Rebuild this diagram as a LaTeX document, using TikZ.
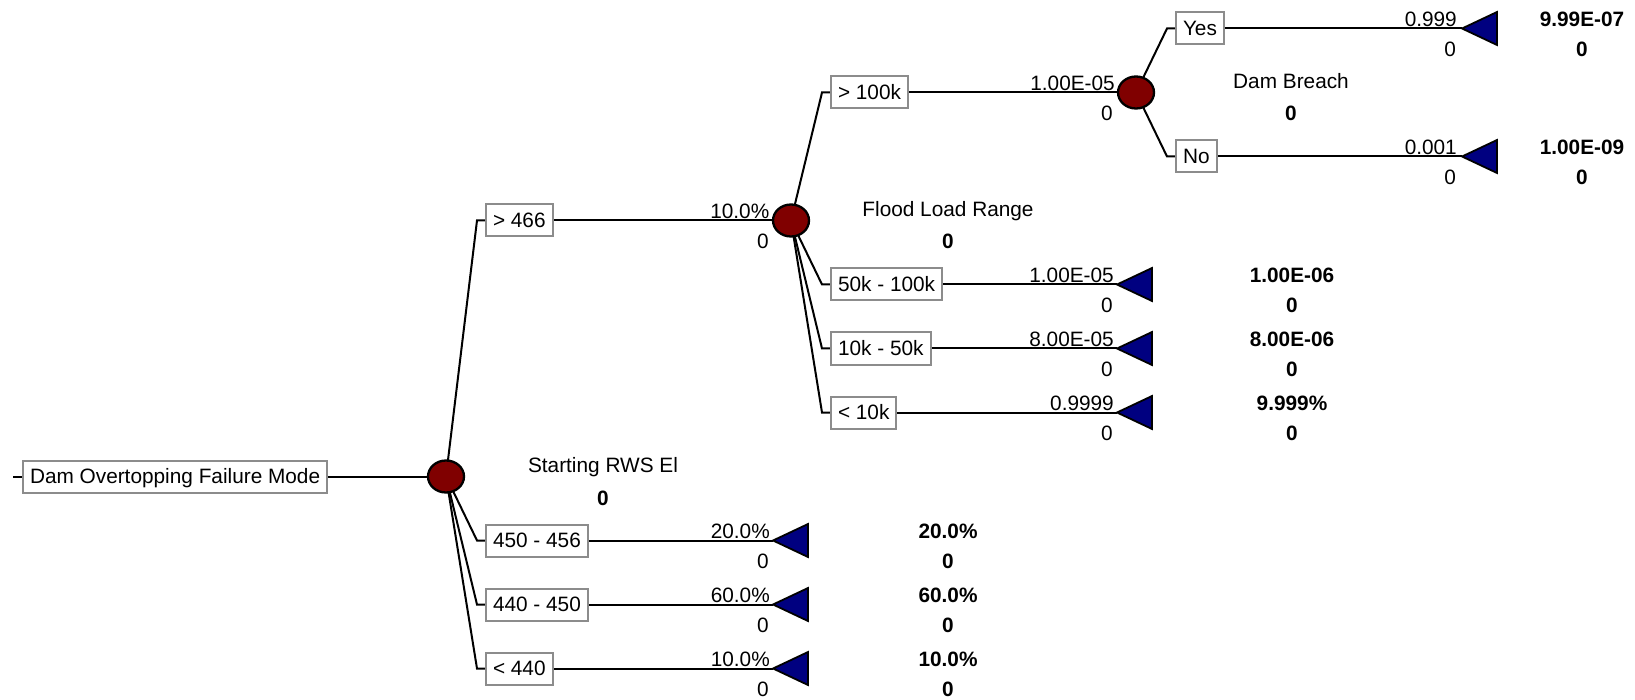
\documentclass[tikz,border=0pt]{standalone}
\usepackage{fontspec}
\setmainfont{Liberation Sans}
\usetikzlibrary{shapes.geometric,backgrounds}
\definecolor{chancered}{HTML}{800000}
\definecolor{termblue}{HTML}{000080}
\definecolor{boxgray}{HTML}{8C8C8C}

\tikzset{
  every node/.style={font=\fontsize{20.8}{24}\selectfont},
  branchbox/.style={draw=boxgray, line width=2pt, fill=white, inner xsep=7pt,
    inner ysep=0pt, minimum height=32pt, anchor=west, text height=14pt, text depth=0pt},
  chance/.style={ellipse, draw=black, line width=2.3pt, fill=chancered,
    minimum width=36pt, minimum height=32pt, inner sep=0pt},
  wire/.style={line width=2pt, black},
  terminal/.style={draw=black, line width=1.8pt, fill=termblue, line join=miter},
  prob/.style={anchor=base east, inner sep=0pt},
  payoff/.style={anchor=base, inner sep=0pt, font=\fontsize{20.8}{24}\selectfont\bfseries},
  nodename/.style={anchor=base, inner sep=0pt},
}

\begin{document}
\begin{tikzpicture}[x=1pt,y=-1pt]
\useasboundingbox (0,0) rectangle (1635,700);

% ---------- root and first chance node ----------
\coordinate (stub) at (13,476.5);
\node[branchbox] (root) at (22,476.5) {Dam Overtopping Failure Mode};
\node[chance] (c1) at (446,476.5) {};
\node[nodename] (c1name) at (603,472.3) {Starting RWS El};
\node[payoff] (c1val) at (603,505) {0};

% branches of Starting RWS El
\coordinate (k466) at (477,220.5);
\coordinate (kr1) at (477,540.5);
\coordinate (kr2) at (477,604.5);
\coordinate (kr3) at (477,668.5);
\node[branchbox] (b466) at (485,220.5) {> 466};
\node[branchbox] (r1) at (485,540.5) {450 - 456};
\node[branchbox] (r2) at (485,604.5) {440 - 450};
\node[branchbox] (r3) at (485,668.5) {< 440};
\coordinate (t1) at (773,540.5);
\coordinate (t2) at (773,604.5);
\coordinate (t3) at (773,668.5);

% ---------- Flood Load Range ----------
\node[chance] (c2) at (791,220.5) {};
\node[nodename] (c2name) at (948,216.5) {Flood Load Range};
\node[payoff] (c2val) at (948,249) {0};

\coordinate (kf1) at (822,92.5);
\coordinate (kf2) at (822,284.5);
\coordinate (kf3) at (822,348.5);
\coordinate (kf4) at (822,412.5);
\node[branchbox] (f1) at (830,92.5) {> 100k};
\node[branchbox] (f2) at (830,284.5) {50k - 100k};
\node[branchbox] (f3) at (830,348.5) {10k - 50k};
\node[branchbox] (f4) at (830,412.5) {< 10k};
\coordinate (tf2) at (1117,284.5);
\coordinate (tf3) at (1117,348.5);
\coordinate (tf4) at (1117,412.5);

% ---------- Dam Breach ----------
\node[chance] (c3) at (1136,92.5) {};
\node[nodename] (c3name) at (1291,88.5) {Dam Breach};
\node[payoff] (c3val) at (1291,121) {0};

\coordinate (kyes) at (1167,28.5);
\coordinate (kno) at (1167,156.5);
\node[branchbox] (yes) at (1175,28.5) {Yes};
\node[branchbox] (no) at (1175,156.5) {No};
\coordinate (tyes) at (1462,28.5);
\coordinate (tno) at (1462,156.5);

% ---------- connectors ----------
\begin{scope}[on background layer]
  \draw[wire] (stub) -- (root.west);
  \draw[wire] (root.east) -- (c1.center);
  \draw[wire] (c1.center) -- (k466) -- (b466.west);
  \draw[wire] (c1.center) -- (kr1) -- (r1.west);
  \draw[wire] (c1.center) -- (kr2) -- (r2.west);
  \draw[wire] (c1.center) -- (kr3) -- (r3.west);
  \draw[wire] (b466.east) -- (c2.center);
  \draw[wire] (r1.east) -- (t1);
  \draw[wire] (r2.east) -- (t2);
  \draw[wire] (r3.east) -- (t3);

  \draw[wire] (c2.center) -- (kf1) -- (f1.west);
  \draw[wire] (c2.center) -- (kf2) -- (f2.west);
  \draw[wire] (c2.center) -- (kf3) -- (f3.west);
  \draw[wire] (c2.center) -- (kf4) -- (f4.west);
  \draw[wire] (f1.east) -- (c3.center);
  \draw[wire] (f2.east) -- (tf2);
  \draw[wire] (f3.east) -- (tf3);
  \draw[wire] (f4.east) -- (tf4);

  \draw[wire] (c3.center) -- (kyes) -- (yes.west);
  \draw[wire] (c3.center) -- (kno) -- (no.west);
  \draw[wire] (yes.east) -- (tyes);
  \draw[wire] (no.east) -- (tno);
\end{scope}

% ---------- terminal markers ----------
\foreach \t in {t1,t2,t3,tf2,tf3,tf4,tyes,tno}
  \draw[terminal] (\t) -- ++(35,-16.5) -- ++(0,33) -- cycle;

% ---------- branch probabilities and payoffs ----------
\node[prob] at (769.5,218.2) {10.0\%};
\node[prob] at (769,248.2) {0};
\node[prob] at (770,538.2) {20.0\%};
\node[prob] at (769,568.2) {0};
\node[prob] at (770,602.2) {60.0\%};
\node[prob] at (769,632.2) {0};
\node[prob] at (770,666.2) {10.0\%};
\node[prob] at (769,696.2) {0};

\node[prob] at (1115,90.2) {1.00E-05};
\node[prob] at (1113,120.2) {0};
\node[prob] at (1114,282.2) {1.00E-05};
\node[prob] at (1113,312.2) {0};
\node[prob] at (1114,346.2) {8.00E-05};
\node[prob] at (1113,376.2) {0};
\node[prob] at (1114,410.2) {0.9999};
\node[prob] at (1113,440.2) {0};

\node[prob] at (1457,26.2) {0.999};
\node[prob] at (1456,56.2) {0};
\node[prob] at (1457,154.2) {0.001};
\node[prob] at (1456,184.2) {0};

% ---------- end-point values ----------
\node[payoff] at (948,538.2) {20.0\%};
\node[payoff] at (948,568.5) {0};
\node[payoff] at (948,602.2) {60.0\%};
\node[payoff] at (948,632.5) {0};
\node[payoff] at (948,666.2) {10.0\%};
\node[payoff] at (948,696.5) {0};

\node[payoff] at (1292,282.2) {1.00E-06};
\node[payoff] at (1292,312.5) {0};
\node[payoff] at (1292,346.2) {8.00E-06};
\node[payoff] at (1292,376.5) {0};
\node[payoff] at (1292,410.2) {9.999\%};
\node[payoff] at (1292,440.5) {0};

\node[payoff] at (1582,26.2) {9.99E-07};
\node[payoff] at (1582,56.5) {0};
\node[payoff] at (1582,154.2) {1.00E-09};
\node[payoff] at (1582,184.5) {0};
\end{tikzpicture}
\end{document}
